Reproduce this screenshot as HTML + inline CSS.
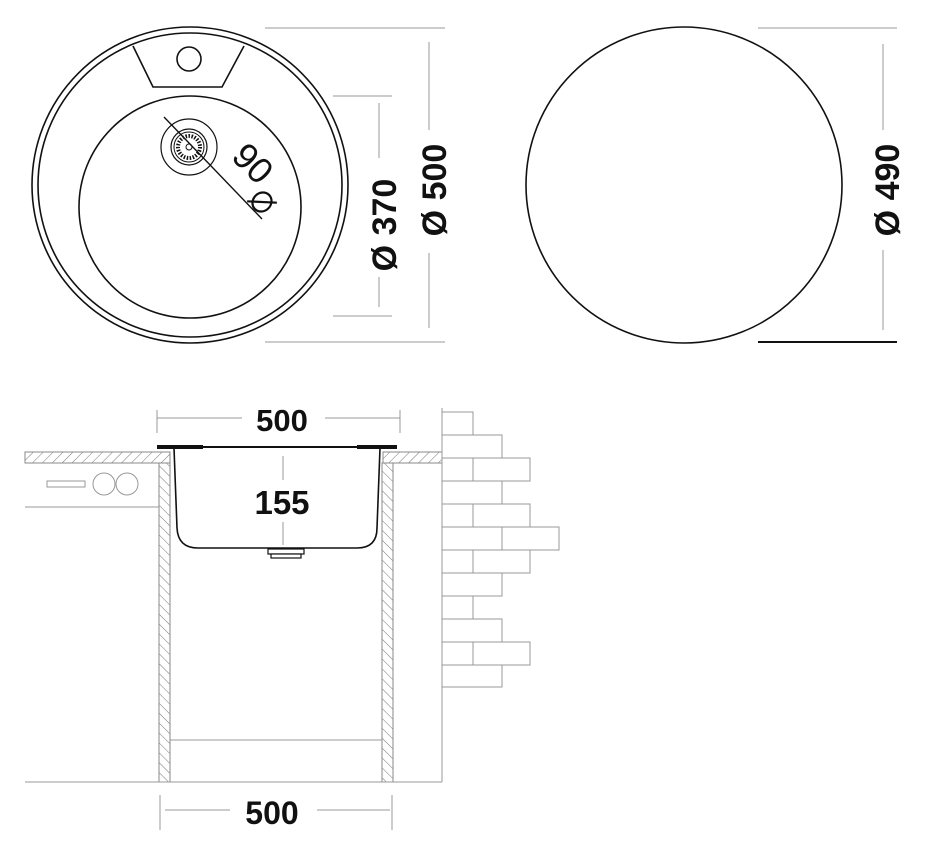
<!DOCTYPE html>
<html><head><meta charset="utf-8"><style>
html,body{margin:0;padding:0;background:#fff;}
svg{display:block}
text{font-family:"Liberation Sans",Arial,sans-serif;font-weight:bold;fill:#111}
</style></head><body>
<svg width="948" height="862" viewBox="0 0 948 862" xmlns="http://www.w3.org/2000/svg">
<defs>
<pattern id="h" patternUnits="userSpaceOnUse" width="7" height="7" patternTransform="rotate(45)">
<line x1="0" y1="0" x2="0" y2="7" stroke="#777" stroke-width="1"/>
</pattern>
<pattern id="hv" patternUnits="userSpaceOnUse" width="7" height="7" patternTransform="rotate(-45)">
<line x1="0" y1="0" x2="0" y2="7" stroke="#777" stroke-width="1"/>
</pattern>
</defs>
<g fill="none" stroke="#111" stroke-width="1.6">
<circle cx="190" cy="185" r="158"/>
<circle cx="190" cy="185" r="152"/>
<circle cx="190" cy="207" r="111"/>
<path d="M133 46 L153 87 L222 87 L244 46"/>
<circle cx="189" cy="59" r="12"/>
<circle cx="189" cy="147" r="28" stroke-width="1.2"/>
<circle cx="189" cy="147" r="18" stroke-width="1.2"/>
<circle cx="189" cy="147" r="15" stroke-width="1"/>
<circle cx="189" cy="147" r="11" stroke-width="4" stroke-dasharray="1.5 1.5"/>
<circle cx="189" cy="147" r="3" stroke-width="1"/>
<line x1="164" y1="117" x2="262" y2="219" stroke-width="1.4"/>
</g>
<text x="0" y="0" font-size="36" style="font-weight:normal" transform="translate(230,158) rotate(45)">90</text>
<g transform="translate(262,202) rotate(45)" fill="none" stroke="#111" stroke-width="2.2">
<ellipse cx="0" cy="0" rx="9" ry="10"/><line x1="-11" y1="10" x2="11" y2="-10"/>
</g>
<g stroke="#999" stroke-width="1">
<line x1="333" y1="96" x2="392" y2="96"/><line x1="333" y1="316" x2="392" y2="316"/>
<line x1="379" y1="103" x2="379" y2="158"/><line x1="379" y1="277" x2="379" y2="307"/>
<line x1="265" y1="28" x2="445" y2="28"/><line x1="265" y1="342" x2="445" y2="342"/>
<line x1="429" y1="42" x2="429" y2="130"/><line x1="429" y1="253" x2="429" y2="328"/>
<line x1="758" y1="28" x2="897" y2="28"/>
<line x1="883" y1="44" x2="883" y2="130"/><line x1="883" y1="250" x2="883" y2="330"/>
</g>
<text font-size="34" text-anchor="middle" transform="translate(396,225) rotate(-90)">Ø 370</text>
<text font-size="34" text-anchor="middle" transform="translate(446,190) rotate(-90)">Ø 500</text>
<text font-size="34" text-anchor="middle" transform="translate(899,190) rotate(-90)">Ø 490</text>
<circle cx="684" cy="185" r="158" fill="none" stroke="#111" stroke-width="1.6"/>
<line x1="758" y1="342" x2="897" y2="342" stroke="#111" stroke-width="2"/>
<g stroke="#999" stroke-width="1">
<line x1="157" y1="410" x2="157" y2="433"/><line x1="400" y1="410" x2="400" y2="433"/>
<line x1="157" y1="418" x2="242" y2="418"/><line x1="325" y1="418" x2="400" y2="418"/>
<line x1="160" y1="795" x2="160" y2="830"/><line x1="392" y1="795" x2="392" y2="830"/>
<line x1="165" y1="810" x2="230" y2="810"/><line x1="317" y1="810" x2="390" y2="810"/>
<line x1="283" y1="456" x2="283" y2="480"/><line x1="283" y1="522" x2="283" y2="545"/>
</g>
<text x="282" y="431" font-size="31" text-anchor="middle">500</text>
<text x="272" y="824" font-size="32" text-anchor="middle">500</text>
<text x="282" y="514" font-size="33" text-anchor="middle">155</text>
<rect x="25" y="452" width="145" height="11" fill="url(#h)" stroke="#888" stroke-width="1"/>
<rect x="383" y="452" width="59" height="11" fill="url(#h)" stroke="#888" stroke-width="1"/>
<rect x="159" y="463" width="11" height="319" fill="url(#hv)" stroke="#888" stroke-width="1"/>
<rect x="382" y="463" width="11" height="319" fill="url(#hv)" stroke="#888" stroke-width="1"/>
<g stroke="#999" stroke-width="1" fill="none">
<line x1="25" y1="782" x2="442" y2="782"/>
<line x1="170" y1="740" x2="382" y2="740"/>
<line x1="25" y1="507" x2="159" y2="507"/>
<rect x="47" y="481" width="38" height="6"/>
<circle cx="104" cy="484" r="11"/><circle cx="127" cy="484" r="11"/>
<line x1="442" y1="408" x2="442" y2="782"/>
</g>
<g stroke="#999" stroke-width="1" fill="none">
<rect x="442" y="412" width="31" height="23"/>
<rect x="442" y="435" width="60" height="23"/>
<rect x="442" y="458" width="31" height="23"/><rect x="473" y="458" width="57" height="23"/>
<rect x="442" y="481" width="60" height="23"/>
<rect x="442" y="504" width="31" height="23"/><rect x="473" y="504" width="57" height="23"/>
<rect x="442" y="527" width="60" height="23"/><rect x="502" y="527" width="57" height="23"/>
<rect x="442" y="550" width="31" height="23"/><rect x="473" y="550" width="57" height="23"/>
<rect x="442" y="573" width="60" height="23"/>
<rect x="442" y="596" width="31" height="23"/>
<rect x="442" y="619" width="60" height="23"/>
<rect x="442" y="642" width="31" height="23"/><rect x="473" y="642" width="57" height="23"/>
<rect x="442" y="665" width="60" height="22"/>
</g>
<line x1="157" y1="447" x2="397" y2="447" stroke="#111" stroke-width="2"/>
<line x1="157" y1="447" x2="203" y2="447" stroke="#111" stroke-width="4"/>
<line x1="357" y1="447" x2="397" y2="447" stroke="#111" stroke-width="4"/>
<path d="M174 448 L177 528 Q178 548 198 548 L357 548 Q377 548 377 528 L380 448" fill="none" stroke="#111" stroke-width="1.6"/>
<rect x="268" y="549" width="36" height="5" fill="#fff" stroke="#111" stroke-width="1.2"/>
<rect x="271" y="554" width="30" height="4" fill="#fff" stroke="#111" stroke-width="1.2"/>
</svg>
</body></html>
